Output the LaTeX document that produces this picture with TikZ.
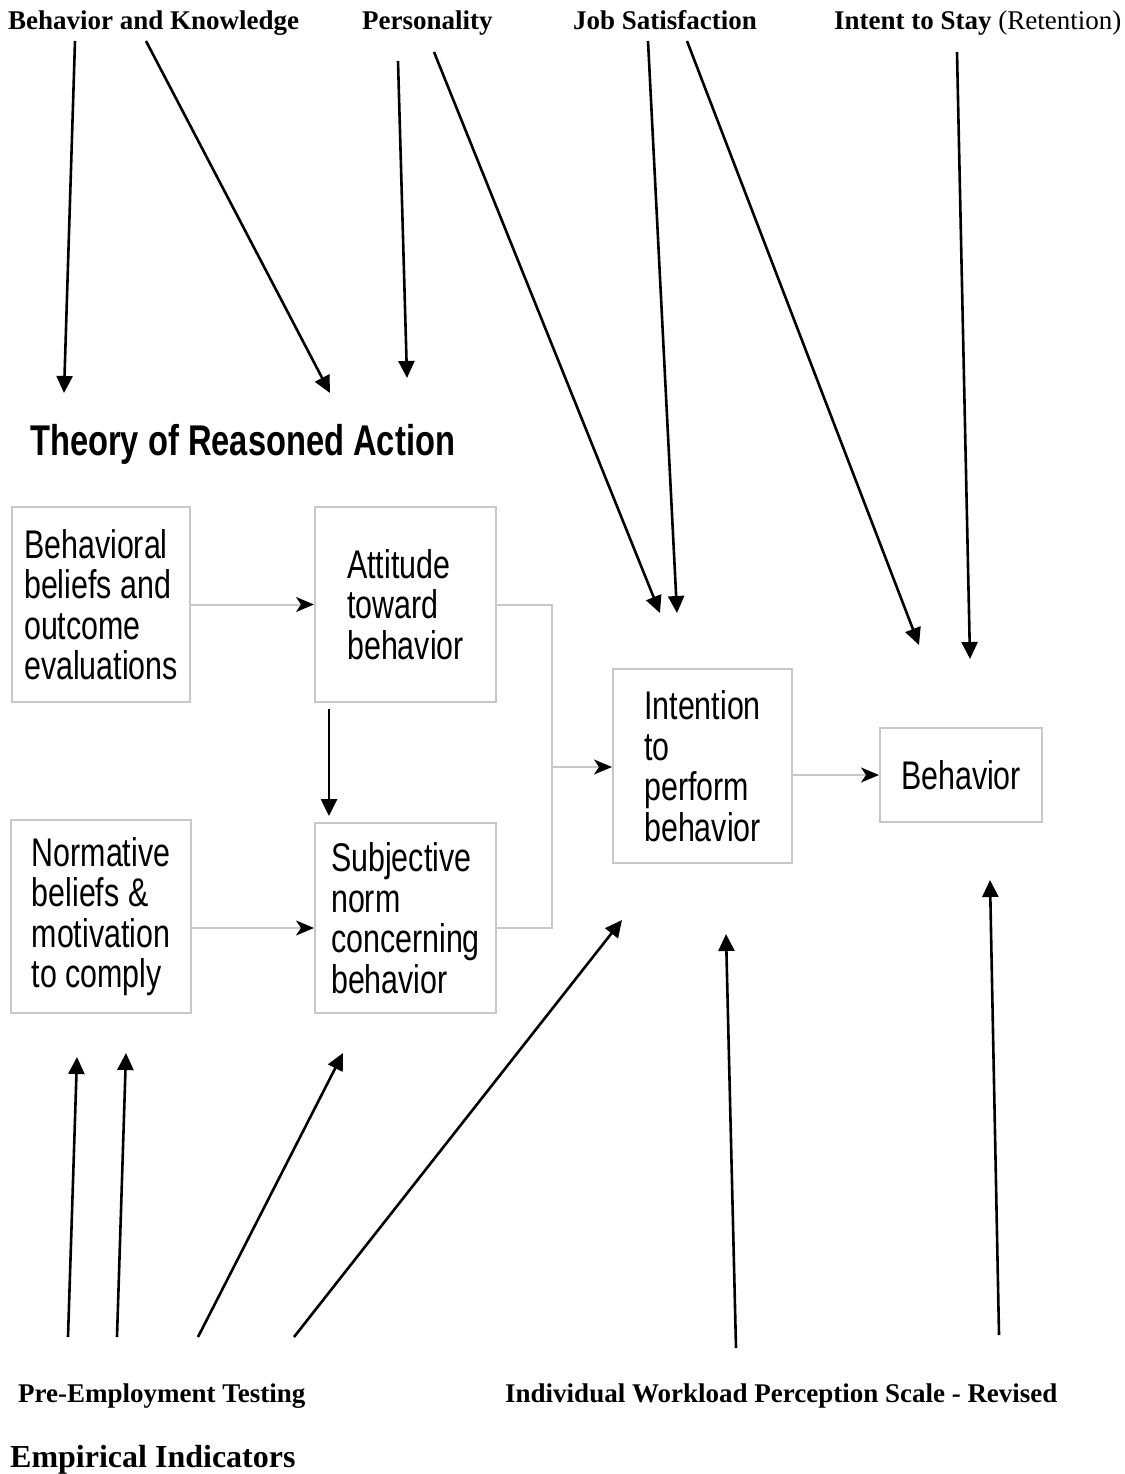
\documentclass[tikz,border=0pt]{standalone}
\usepackage{fontspec}
\setmainfont{Liberation Serif}
\newfontfamily\trafont[FakeStretch=0.76]{Liberation Sans}
\usetikzlibrary{arrows.meta}
\definecolor{boxgray}{RGB}{200,200,200}

\tikzset{
  trabox/.style={draw=boxgray, line width=2pt, inner sep=0pt, align=left,
    font=\trafont\fontsize{40}{40.5}\selectfont},
  flow/.style={draw=boxgray, line width=2pt,
    -{Stealth[length=18pt, width=15pt, inset=5pt, color=black]}},
  ind/.style={line width=2.6pt, -{Triangle[length=17pt, width=16pt]}},
  concept/.style={anchor=base west, inner sep=0pt,
    font=\fontsize{27}{30}\selectfont\bfseries}
}

\begin{document}
\begin{tikzpicture}[x=1pt, y=-1pt]
  \useasboundingbox (0,0) rectangle (1124,1474);

  % Concepts
  \node[concept] (know) at (8,30) {Behavior and Knowledge};
  \node[concept] (pers) at (362,30) {Personality};
  \node[concept] (jsat) at (573,30) {Job Satisfaction};
  \node[concept] (stay) at (834,30) {Intent to Stay \mdseries(Retention)};

  % Title
  \node[anchor=base west, inner sep=0pt,
    font=\trafont\fontsize{43}{43}\selectfont\bfseries] (title) at (30,455)
    {Theory of Reasoned Action};

  % Boxes
  \node[trabox, minimum width=178pt, minimum height=195pt] (bbel) at (101,604.5)
    {Behavioral\\beliefs and\\outcome\\evaluations};
  \node[trabox, minimum width=181pt, minimum height=195pt] (att) at (405.5,604.5)
    {Attitude\\toward\\behavior};
  \node[trabox, minimum width=180pt, minimum height=193pt] (nbel) at (101,916.5)
    {Normative\\beliefs \&\\motivation\\to comply};
  \node[trabox, minimum width=181pt, minimum height=190pt] (subj) at (405.5,918)
    {Subjective\\norm\\concerning\\behavior};
  \node[trabox, minimum width=179pt, minimum height=194pt] (intn) at (702.5,766)
    {Intention\\to\\perform\\behavior};
  \node[trabox, minimum width=162pt, minimum height=94pt] (beh) at (961,775)
    {Behavior};

  % Flow between boxes
  \coordinate (join) at (552,767);
  \draw[flow] (bbel.east) -- (att.west);
  \draw[flow] (nbel.east |- 0,928) -- (subj.west |- 0,928);
  \draw[draw=boxgray, line width=2pt] (att.east) -| (join);
  \draw[draw=boxgray, line width=2pt] (subj.east |- 0,928) -| (join);
  \draw[flow] (join) -- (intn.west |- join);
  \draw[flow] (intn.east |- beh.west) -- (beh.west);
  \draw[ind, shorten <=6pt, shorten >=6pt] (att.south -| 329,0) -- (subj.north -| 329,0);

  % Indicator arrows from the top
  \foreach \n/\sx/\sy/\tx/\ty in {1/75/41/64/393, 2/146/41/330/393, 3/398/61/407/378,
      4/434/52/660/613, 5/648/41/677/613, 6/687/41/919/645, 7/957/52/970/659} {
    \coordinate (a\n) at (\sx,\sy);
    \coordinate (b\n) at (\tx,\ty);
    \draw[ind] (a\n) -- (b\n);
  }

  % Indicator arrows from the bottom
  \foreach \n/\sx/\sy/\tx/\ty in {1/68/1337/77/1057, 2/117/1337/126/1053,
      3/198/1337/343/1053, 4/294/1337/622/920, 5/736/1348/726/934, 6/999/1335/990/880} {
    \coordinate (c\n) at (\sx,\sy);
    \coordinate (d\n) at (\tx,\ty);
    \draw[ind] (c\n) -- (d\n);
  }

  % Measures
  \node[concept] (pret) at (18,1402) {Pre-Employment Testing};
  \node[concept] (iwps) at (505,1402) {Individual Workload Perception Scale - Revised};
  \node[concept, font=\fontsize{32}{34}\selectfont\bfseries] (emp) at (10,1467)
    {Empirical Indicators};
\end{tikzpicture}
\end{document}
